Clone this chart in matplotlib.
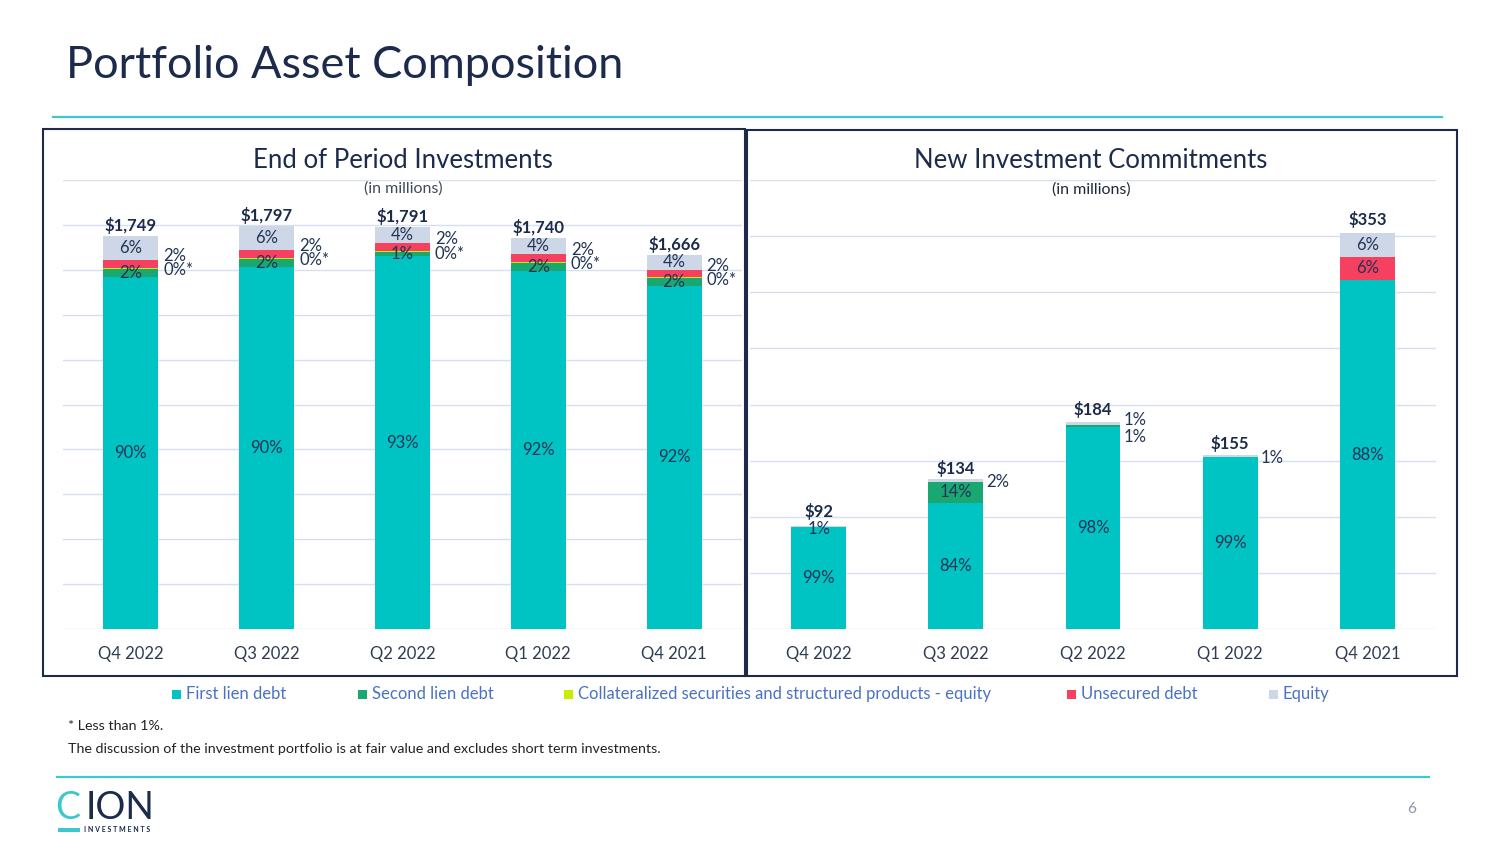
import matplotlib
matplotlib.use("Agg")
import matplotlib.pyplot as plt
from matplotlib.patches import Rectangle
from matplotlib.lines import Line2D

plt.rcParams['font.family'] = ['Lato', 'DejaVu Sans']

# ---------------- data ----------------
quarters = ['Q4 2022', 'Q3 2022', 'Q2 2022', 'Q1 2022', 'Q4 2021']
series_names = ['First lien debt', 'Second lien debt',
                'Collateralized securities and structured products - equity',
                'Unsecured debt', 'Equity']

# End of Period Investments ($ millions) and composition (%)
eop_totals = [1749, 1797, 1791, 1740, 1666]
eop_first_lien = [90, 90, 93, 92, 92]
eop_second_lien = [2, 2, 1, 2, 2]
eop_collateralized = [0.3, 0.3, 0.3, 0.3, 0.3]   # shown as "0%*" (less than 1%)
eop_unsecured = [2, 2, 2, 2, 2]
eop_equity = [6, 6, 4, 4, 4]

# New Investment Commitments ($ millions) and composition (%)
nic_totals = [92, 134, 184, 155, 353]
nic_first_lien = [99, 84, 98, 99, 88]
nic_second_lien = [0, 14, 1, 0, 0]
nic_collateralized = [0, 0, 0, 0, 0]
nic_unsecured = [0, 0, 0, 0, 6]
nic_equity = [1, 2, 1, 1, 6]

# ---------------- style ----------------
colors = ['#00c4c4', '#1aa872', '#c6ef00', '#f5405f', '#cdd7e8']
NAVY = '#1c2b4b'
LABEL = '#223355'
TICK = '#2f3b52'
GRID = '#d8e0ef'
TEAL = '#3cc8cc'
LEG = '#4a72c4'
PX = 0.72  # points per pixel at dpi 100

fig = plt.figure(figsize=(15, 8.44), dpi=100)
W, H = 1500, 844


def fx(x):
    return x / W


def fy(y):
    return 1 - y / H


# header
fig.text(fx(66), fy(66), 'Portfolio Asset Composition', fontsize=32.5, color=NAVY,
         va='center', ha='left')
fig.add_artist(Line2D([fx(53), fx(1442)], [fy(117), fy(117)], color=TEAL, lw=1.6))

# panel frames
for (x0, y0, x1, y1) in [(43, 129, 745, 676), (747, 130, 1457, 676)]:
    fig.add_artist(Rectangle((fx(x0), fy(y1)), fx(x1 - x0), (y1 - y0) / H,
                             fill=False, edgecolor='#1f2a48', lw=1.5))


def make_axes(x0, x1, ymax, step):
    ax = fig.add_axes([fx(x0), fy(629), fx(x1 - x0), (629 - 180) / H])
    ax.set_xlim(-0.5, 4.5)
    ax.set_ylim(0, ymax)
    ax.set_yticks(range(0, ymax + 1, step))
    ax.yaxis.grid(True, color=GRID, lw=1.0)
    ax.set_axisbelow(True)
    for s in ax.spines.values():
        s.set_visible(False)
    ax.tick_params(axis='y', left=False, labelleft=False)
    ax.tick_params(axis='x', bottom=False, labelsize=12, labelcolor=TICK, pad=9)
    ax.set_xticks(range(len(quarters)))
    ax.set_xticklabels(quarters)
    return ax


def pct_text(v):
    if 0 < v < 1:
        return '0%*'
    return f'{v:.0f}%'


def draw_stack(ax, totals, comps, width, lift_px=None):
    segs = []  # segs[s][i] = (bottom, height)
    bottoms = [0.0] * len(totals)
    for s, comp in enumerate(comps):
        heights = []
        for i, t in enumerate(totals):
            tot_pct = sum(c[i] for c in comps)
            heights.append(t * comp[i] / tot_pct)
        ax.bar(range(len(totals)), heights, width=width, bottom=bottoms,
               color=colors[s], edgecolor='none', zorder=2)
        segs.append([(b, h) for b, h in zip(bottoms, heights)])
        bottoms = [b + h for b, h in zip(bottoms, heights)]
    for i, t in enumerate(totals):
        lift = 2 if lift_px is None else lift_px[i]
        ax.annotate(f'${t:,}', (i, t), xytext=(0, lift * PX), textcoords='offset points',
                    ha='center', va='bottom', fontsize=12, fontweight='bold',
                    color=NAVY, zorder=4)
    return segs


def inside(ax, segs, comps, s, i):
    b, h = segs[s][i]
    ax.text(i, b + h / 2, pct_text(comps[s][i]), ha='center', va='center',
            fontsize=12, color=LABEL, zorder=4)


def outside(ax, segs, comps, s, i, width, dx_px, dy_px):
    b, h = segs[s][i]
    ax.annotate(pct_text(comps[s][i]), (i + width / 2, b + h / 2),
                xytext=(dx_px * PX, -dy_px * PX), textcoords='offset points',
                ha='left', va='center', fontsize=12, color=LABEL, zorder=4)


# ---------------- left chart ----------------
axL = make_axes(63, 742, 2000, 200)
wL = 0.405
eop_comps = [eop_first_lien, eop_second_lien, eop_collateralized, eop_unsecured, eop_equity]
segL = draw_stack(axL, eop_totals, eop_comps, wL)
for i in range(5):
    inside(axL, segL, eop_comps, 0, i)
    inside(axL, segL, eop_comps, 1, i)
    inside(axL, segL, eop_comps, 4, i)
    outside(axL, segL, eop_comps, 3, i, wL, 5, -8)
    outside(axL, segL, eop_comps, 2, i, wL, 5, 2)

fig.text(fx(403), fy(160), 'End of Period Investments', ha='center', va='center',
         fontsize=18.5, color=NAVY)
fig.text(fx(403), fy(189), '(in millions)', ha='center', va='center',
         fontsize=11.5, color='#404a5c')

# ---------------- right chart ----------------
axR = make_axes(750, 1436, 400, 50)
wR = 0.40
nic_comps = [nic_first_lien, nic_second_lien, nic_collateralized, nic_unsecured, nic_equity]
segR = draw_stack(axR, nic_totals, nic_comps, wR, lift_px=[6, 2, 4, 3, 5])
for i in range(5):
    inside(axR, segR, nic_comps, 0, i)
inside(axR, segR, nic_comps, 1, 1)
inside(axR, segR, nic_comps, 3, 4)
inside(axR, segR, nic_comps, 4, 4)
# Q4 2022: small equity label sits on the bar top
b, h = segR[4][0]
axR.annotate(pct_text(nic_equity[0]), (0, b + h), xytext=(0, -3 * PX),
             textcoords='offset points', ha='center', va='center',
             fontsize=12, color=LABEL, zorder=4)
outside(axR, segR, nic_comps, 4, 1, wR, 3, 2)
outside(axR, segR, nic_comps, 4, 2, wR, 3, -3)
outside(axR, segR, nic_comps, 1, 2, wR, 3, 11)
outside(axR, segR, nic_comps, 4, 3, wR, 3, 2)

fig.text(fx(1091), fy(161), 'New Investment Commitments', ha='center', va='center',
         fontsize=18.5, color=NAVY)
fig.text(fx(1091), fy(190), '(in millions)', ha='center', va='center',
         fontsize=11.5, color='#202838')

# ---------------- legend ----------------
leg_x = [176, 362, 568, 1071, 1273]
for s, name in enumerate(series_names):
    fig.add_artist(Rectangle((fx(leg_x[s] - 4), fy(699)), fx(9), 9 / H,
                             facecolor=colors[s], edgecolor='none'))
    fig.text(fx(leg_x[s] + 10), fy(694), name, fontsize=12, color=LEG,
             ha='left', va='center')

# ---------------- footer ----------------
fig.text(fx(68), fy(726), '* Less than 1%.', fontsize=10.3, color='#222222',
         ha='left', va='center')
fig.text(fx(68), fy(749),
         'The discussion of the investment portfolio is at fair value and excludes short term investments.',
         fontsize=10.3, color='#222222', ha='left', va='center')
fig.add_artist(Line2D([fx(57), fx(1429)], [fy(777), fy(777)], color=TEAL, lw=1.6))

# logo
fig.text(fx(55), fy(808), 'C', fontsize=27, color=TEAL,
         ha='left', va='center')
fig.text(fx(86), fy(808), 'ION', fontsize=27, color=NAVY,
         ha='left', va='center')
fig.add_artist(Rectangle((fx(58), fy(832)), fx(22), 4 / H, facecolor=TEAL,
                         edgecolor='none'))
fig.text(fx(84), fy(829), 'I N V E S T M E N T S', fontsize=5, color=NAVY,
         fontweight='bold', ha='left', va='center')

fig.text(fx(1412), fy(809), '6', fontsize=11, color='#8a94a6', ha='center',
         va='center')

fig.savefig('out.png', dpi=100)
